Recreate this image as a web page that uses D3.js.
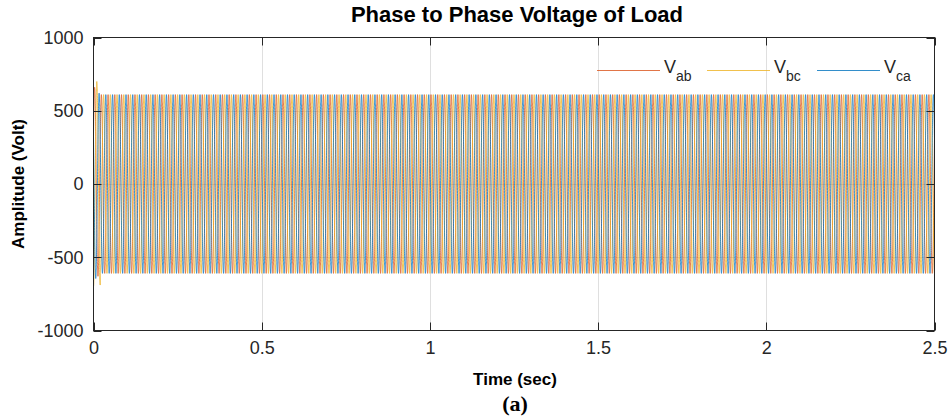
<!DOCTYPE html>
<html><head><meta charset="utf-8">
<script src="https://cdn.jsdelivr.net/npm/d3@7"></script>
<style>body{margin:0;background:#fff} svg{display:block}</style>
</head><body><svg id="c" width="952" height="416"></svg>
<script>
// ---- data ----
const seriesNames = ["ab", "bc", "ca"];
const seriesColors = ["#D95319", "#EDB120", "#0072BD"];
const steadyAmplitude = 610;          // peak line-to-line voltage (V)
const frequencyHz = 50;               // supply frequency
const phaseDeg = [30, -90, 150];      // V_ab, V_bc, V_ca phase angles
const firstCycleAmplitude = [[660, 630], [700, 690], [645, 620]]; // start-up peaks, per half cycle
const timeEnd = 2.5;
const sampleStep = 1e-4;
const xTicks = [0, 0.5, 1, 1.5, 2, 2.5];
const yTicks = [-1000, -500, 0, 500, 1000];

// ---- layout ----
const W = 952, H = 416;
const L = 93.5, R = 934.5, T = 37.5, B = 330.5;
const svg = d3.select("#c");
const x = d3.scaleLinear().domain([0, 2.5]).range([L, R]);
const y = d3.scaleLinear().domain([-1000, 1000]).range([B, T]);
const axisColor = "#262626";
const font = "'Liberation Sans', Arial, sans-serif";

// build series samples
const times = d3.range(0, timeEnd + sampleStep / 2, sampleStep);
const half = 1 / frequencyHz / 2;
const series = seriesNames.map((n, i) => times.map(t => {
  const k = Math.floor(t / half);
  const a = k < 2 ? firstCycleAmplitude[i][k] : steadyAmplitude;
  return [t, a * Math.sin(2 * Math.PI * frequencyHz * t + phaseDeg[i] * Math.PI / 180)];
}));

// grid
const grid = svg.append("g").attr("stroke", "#dfdfdf").attr("stroke-width", 1);
xTicks.slice(1, -1).forEach(v => grid.append("line").attr("x1", Math.round(x(v)) + 0.5).attr("x2", Math.round(x(v)) + 0.5).attr("y1", T).attr("y2", B));
yTicks.slice(1, -1).forEach(v => grid.append("line").attr("y1", Math.round(y(v)) + 0.5).attr("y2", Math.round(y(v)) + 0.5).attr("x1", L).attr("x2", R));

// clip
svg.append("clipPath").attr("id", "clip").append("rect").attr("x", L).attr("y", T).attr("width", R - L).attr("height", B - T);
const line = d3.line().x(d => x(d[0])).y(d => y(d[1]));
const lg = svg.append("g").attr("clip-path", "url(#clip)");
series.forEach((s, i) => lg.append("path").attr("d", line(s)).attr("fill", "none")
  .attr("stroke", seriesColors[i]).attr("stroke-width", 0.75));

// axes box + ticks (inside, all four sides)
const ax = svg.append("g").attr("stroke", axisColor).attr("stroke-width", 1).attr("fill", "none");
ax.append("rect").attr("x", L).attr("y", T).attr("width", R - L).attr("height", B - T);
const tl = 8;
xTicks.forEach(v => {
  const px = Math.round(x(v)) + 0.5;
  ax.append("line").attr("x1", px).attr("x2", px).attr("y1", B).attr("y2", B - tl);
  ax.append("line").attr("x1", px).attr("x2", px).attr("y1", T).attr("y2", T + tl);
});
yTicks.forEach(v => {
  const py = Math.round(y(v)) + 0.5;
  ax.append("line").attr("y1", py).attr("y2", py).attr("x1", L).attr("x2", L + tl);
  ax.append("line").attr("y1", py).attr("y2", py).attr("x1", R).attr("x2", R - tl);
});

// tick labels (ASCII hyphen for negatives, as in the reference)
const xa = d3.axisBottom(x).tickValues(xTicks).tickFormat(d => String(d)).tickSize(0).tickPadding(11);
const gx = svg.append("g").attr("transform", `translate(0,${B})`).call(xa);
gx.select(".domain").remove();
gx.selectAll("text").attr("font-family", font).attr("font-size", 18).attr("fill", axisColor);
const ya = d3.axisLeft(y).tickValues(yTicks).tickFormat(d => String(d)).tickSize(0).tickPadding(10);
const gy = svg.append("g").attr("transform", `translate(${L},0)`).call(ya);
gy.select(".domain").remove();
gy.selectAll("text").attr("font-family", font).attr("font-size", 18).attr("fill", axisColor);

// title and labels
svg.append("text").attr("x", 517).attr("y", 22).attr("text-anchor", "middle")
  .attr("font-family", font).attr("font-weight", "bold").attr("font-size", 22).attr("fill", "#000")
  .text("Phase to Phase Voltage of Load");
svg.append("text").attr("x", 515).attr("y", 385).attr("text-anchor", "middle")
  .attr("font-family", font).attr("font-weight", "bold").attr("font-size", 17).attr("fill", "#000")
  .text("Time (sec)");
svg.append("text").attr("transform", `translate(24,${(T + B) / 2}) rotate(-90)`).attr("text-anchor", "middle")
  .attr("font-family", font).attr("font-weight", "bold").attr("font-size", 17).attr("fill", "#000")
  .text("Amplitude (Volt)");
svg.append("text").attr("x", 515).attr("y", 411).attr("text-anchor", "middle")
  .attr("font-family", "'Liberation Serif', 'Times New Roman', serif").attr("font-weight", "bold").attr("font-size", 22).attr("fill", "#000")
  .text("(a)");

// legend
const legX = [597, 707, 817];
const leg = svg.append("g");
seriesNames.forEach((n, i) => {
  leg.append("line").attr("x1", legX[i]).attr("x2", legX[i] + 63).attr("y1", 70.5).attr("y2", 70.5)
    .attr("stroke", seriesColors[i]).attr("stroke-width", 1.2).attr("stroke-opacity", 0.8);
  const t = leg.append("text").attr("x", legX[i] + 67).attr("y", 73)
    .attr("font-family", font).attr("font-size", 18).attr("fill", axisColor);
  t.append("tspan").text("V");
  t.append("tspan").attr("dy", 8).attr("font-size", 14).text(n);
});
</script></body></html>
